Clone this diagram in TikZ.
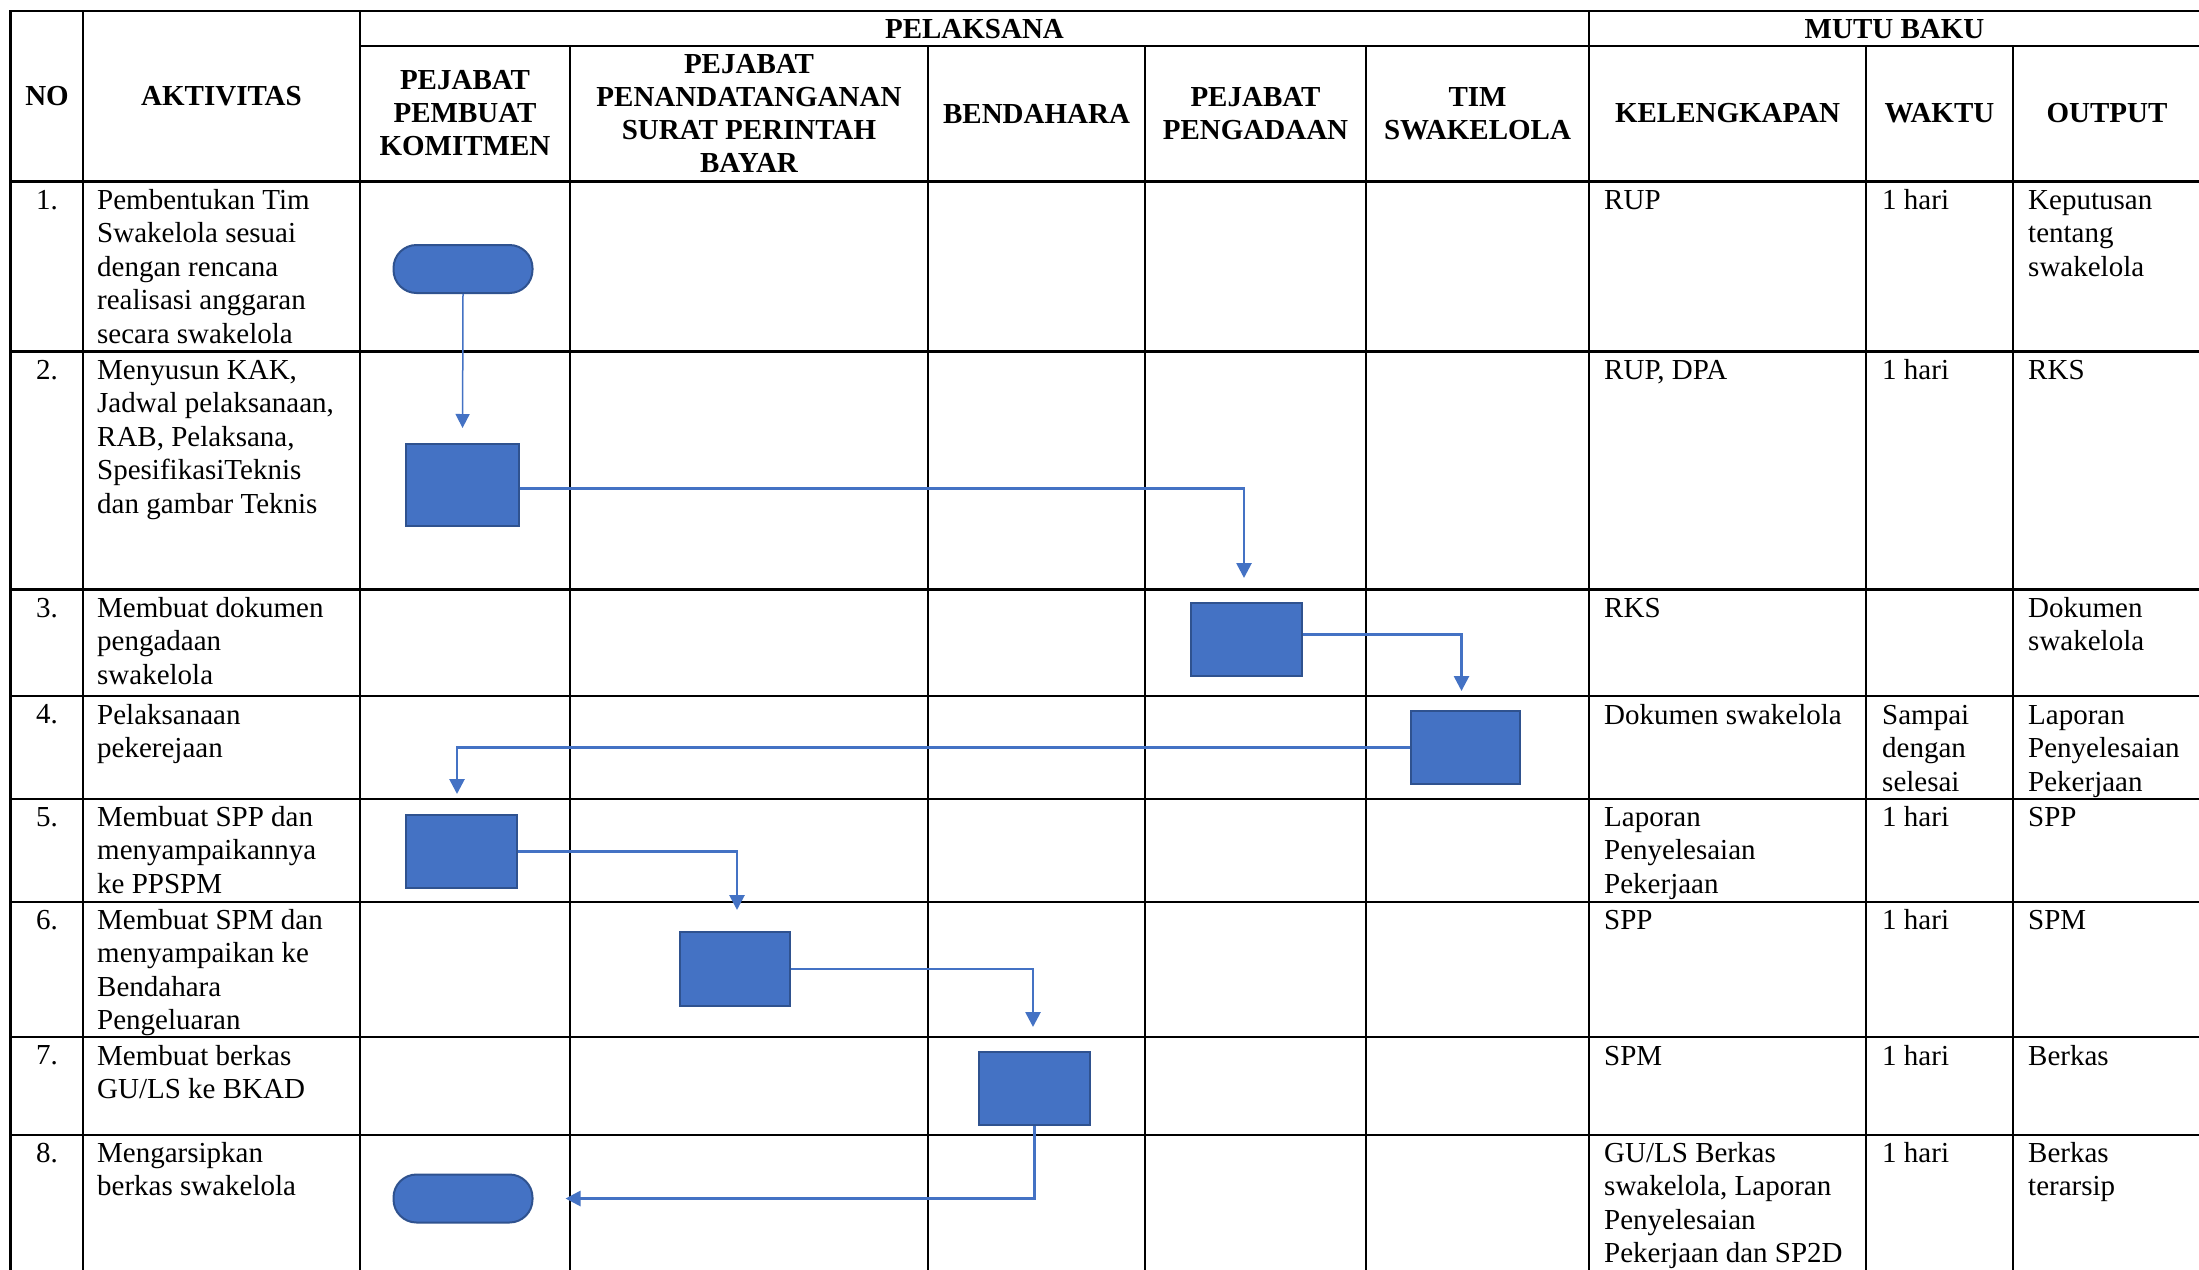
\documentclass[tikz,border=0pt]{standalone}
\usepackage{fontspec}
\setmainfont{Liberation Serif}
\usetikzlibrary{arrows.meta}
\definecolor{fillblue}{HTML}{4472C4}
\definecolor{edgeblue}{HTML}{2F528F}
\newcommand\cst{\rule{0pt}{22pt}}
\tikzset{
  grid/.style={line width=2.2pt, black, line cap=rect},
  txt/.style={anchor=north west, yshift=22pt, inner sep=0pt, align=left, font=\fontsize{29}{33.5}\selectfont},
  num/.style={anchor=base, inner sep=0pt, font=\fontsize{29}{33.5}\selectfont},
  hdr/.style={inner sep=0pt, align=center, font=\bfseries\fontsize{29}{33}\selectfont},
  procbox/.style={draw=edgeblue, fill=fillblue, line width=2pt, inner sep=0pt},
  termbox/.style={draw=edgeblue, fill=fillblue, line width=2pt, inner sep=0pt, rounded corners=23pt, minimum width=139pt, minimum height=48pt},
  flow/.style={draw=fillblue, line width=2.7pt, -{Triangle[width=15pt,length=15pt]}},
  thinflow/.style={draw=fillblue, line width=1.5pt, -{Triangle[width=14pt,length=14pt]}}
}
\begin{document}
\begin{tikzpicture}[x=1pt,y=-1pt]
\useasboundingbox (0,0) rectangle (2199,1269);
\clip (0,0) rectangle (2199,1269);
\fill[white] (0,0) rectangle (2199,1269);
% ---- table grid ----
\draw[grid] (10.5,11) -- (2210,11);
\draw[grid] (360,46) -- (2210,46);
\foreach \yy in {181.5,351.5,589.5,696.3,798.7,901.7,1037.3,1134.7}
  \draw[grid] (10.5,\yy) -- (2210,\yy);
\foreach \xx in {10.5,83,360,1589}
  \draw[grid] (\xx,11) -- (\xx,1290);
\foreach \xx in {570,928,1145,1366,1866,2013}
  \draw[grid] (\xx,46) -- (\xx,1290);
% ---- headers ----
\node[hdr] (hNo) at (47,96.5) {NO};
\node[hdr] (hAkt) at (221.5,96.5) {AKTIVITAS};
\node[hdr, anchor=base] (hPel) at (974.5,38.3) {PELAKSANA};
\node[hdr, anchor=base] (hMutu) at (1894.5,38.3) {MUTU BAKU};
\node[hdr] (hPPK) at (465,113.5) {PEJABAT\\PEMBUAT\\KOMITMEN};
\node[hdr] (hPPSPM) at (749,113.5) {PEJABAT\\PENANDATANGANAN\\SURAT PERINTAH\\BAYAR};
\node[hdr] (hBend) at (1036.5,113.5) {BENDAHARA};
\node[hdr] (hPeng) at (1255.5,113.5) {PEJABAT\\PENGADAAN};
\node[hdr] (hTim) at (1477.5,113.5) {TIM\\SWAKELOLA};
\node[hdr] (hKel) at (1727.5,113.5) {KELENGKAPAN};
\node[hdr] (hWak) at (1939.5,113.5) {WAKTU};
\node[hdr] (hOut) at (2107,113.5) {OUTPUT};
% ---- row 1 ----
\node[num] (n1) at (47,209.2) {1.};
\node[txt] (a1) at (97,209.2) {\cst Pembentukan Tim\\Swakelola sesuai\\dengan rencana\\realisasi anggaran\\secara swakelola};
\node[txt] (k1) at (1604,209.2) {\cst RUP};
\node[txt] (w1) at (1882,209.2) {\cst 1 hari};
\node[txt] (o1) at (2028,209.2) {\cst Keputusan\\tentang\\swakelola};
% ---- row 2 ----
\node[num] (n2) at (47,379.2) {2.};
\node[txt] (a2) at (97,379.2) {\cst Menyusun KAK,\\Jadwal pelaksanaan,\\RAB, Pelaksana,\\SpesifikasiTeknis\\dan gambar Teknis};
\node[txt] (k2) at (1604,379.2) {\cst RUP, DPA};
\node[txt] (w2) at (1882,379.2) {\cst 1 hari};
\node[txt] (o2) at (2028,379.2) {\cst RKS};
% ---- row 3 ----
\node[num] (n3) at (47,617.2) {3.};
\node[txt] (a3) at (97,617.2) {\cst Membuat dokumen\\pengadaan\\swakelola};
\node[txt] (k3) at (1604,617.2) {\cst RKS};
\node[txt] (o3) at (2028,617.2) {\cst Dokumen\\swakelola};
% ---- row 4 ----
\node[num] (n4) at (47,723.8) {4.};
\node[txt] (a4) at (97,723.8) {\cst Pelaksanaan\\pekerejaan};
\node[txt] (k4) at (1604,723.8) {\cst Dokumen swakelola};
\node[txt] (w4) at (1882,723.8) {\cst Sampai\\dengan\\selesai};
\node[txt] (o4) at (2028,723.8) {\cst Laporan\\Penyelesaian\\Pekerjaan};
% ---- row 5 ----
\node[num] (n5) at (47,826.2) {5.};
\node[txt] (a5) at (97,826.2) {\cst Membuat SPP dan\\menyampaikannya\\ke PPSPM};
\node[txt] (k5) at (1604,826.2) {\cst Laporan\\Penyelesaian\\Pekerjaan};
\node[txt] (w5) at (1882,826.2) {\cst 1 hari};
\node[txt] (o5) at (2028,826.2) {\cst SPP};
% ---- row 6 ----
\node[num] (n6) at (47,929.2) {6.};
\node[txt] (a6) at (97,929.2) {\cst Membuat SPM dan\\menyampaikan ke\\Bendahara\\Pengeluaran};
\node[txt] (k6) at (1604,929.2) {\cst SPP};
\node[txt] (w6) at (1882,929.2) {\cst 1 hari};
\node[txt] (o6) at (2028,929.2) {\cst SPM};
% ---- row 7 ----
\node[num] (n7) at (47,1064.8) {7.};
\node[txt] (a7) at (97,1064.8) {\cst Membuat berkas\\GU/LS ke BKAD};
\node[txt] (k7) at (1604,1064.8) {\cst SPM};
\node[txt] (w7) at (1882,1064.8) {\cst 1 hari};
\node[txt] (o7) at (2028,1064.8) {\cst Berkas};
% ---- row 8 ----
\node[num] (n8) at (47,1162.2) {8.};
\node[txt] (a8) at (97,1162.2) {\cst Mengarsipkan\\berkas swakelola};
\node[txt] (k8) at (1604,1162.2) {\cst GU/LS Berkas\\swakelola, Laporan\\Penyelesaian\\Pekerjaan dan SP2D};
\node[txt] (w8) at (1882,1162.2) {\cst 1 hari};
\node[txt] (o8) at (2028,1162.2) {\cst Berkas\\terarsip};
% ---- flow shapes ----
\node[termbox] (start) at (463,269) {};
\node[procbox, minimum width=113pt, minimum height=82pt] (b2) at (462.5,485) {};
\node[procbox, minimum width=111pt, minimum height=73pt] (b3) at (1246.5,639.5) {};
\node[procbox, minimum width=109pt, minimum height=73pt] (b4) at (1465.5,747.5) {};
\node[procbox, minimum width=111pt, minimum height=73pt] (b5) at (461.5,851.5) {};
\node[procbox, minimum width=110pt, minimum height=74pt] (b6) at (735,969) {};
\node[procbox, minimum width=111pt, minimum height=73pt] (b7) at (1034.5,1088.5) {};
\node[termbox] (finish) at (463,1198.5) {};
% ---- connectors ----
\draw[thinflow, shorten >=15pt] (start.south) -- (b2.north);
\draw[flow, shorten >=24pt] ([yshift=-3.5pt]b2.east) -| ([xshift=-2.5pt]b3.north);
\draw[flow, shorten >=19pt] ([yshift=5pt]b3.east) -| ([xshift=-4pt]b4.north);
\draw[flow, shorten >=20pt] (b4.west) -| ([xshift=-4.5pt]b5.north);
\draw[flow, shorten >=21pt] (b5.east) -| ([xshift=2pt]b6.north);
\draw[flow, shorten >=24pt] (b6.east) -| ([xshift=-1.5pt]b7.north);
\draw[flow, shorten >=32pt] (b7.south) |- (finish.east);
\end{tikzpicture}
\end{document}
